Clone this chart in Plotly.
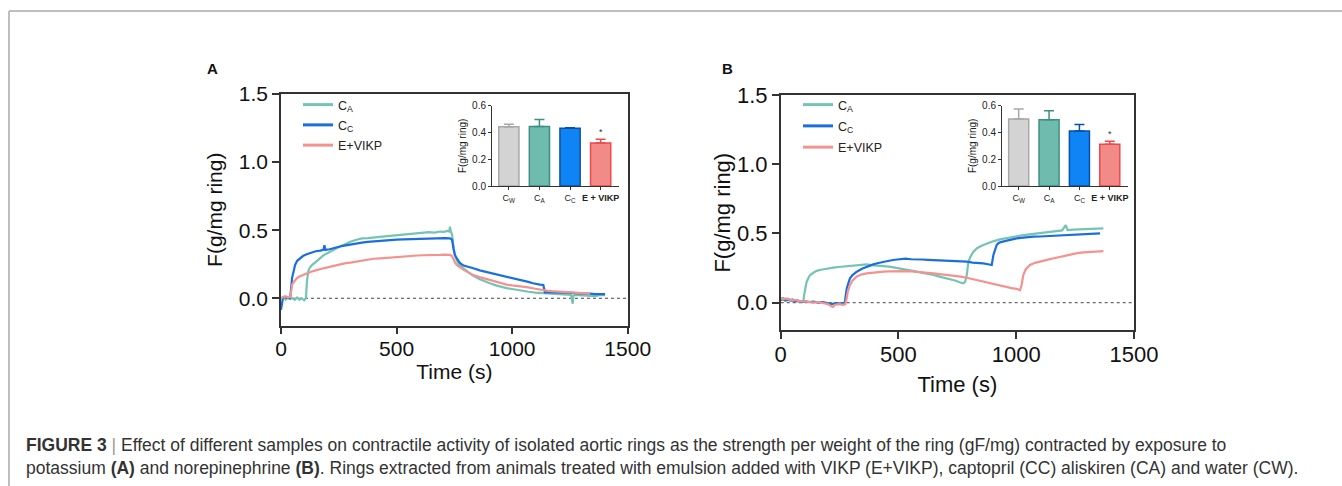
import plotly.graph_objects as go

W, H = 1342, 486
FONT = "Liberation Sans, Arial, sans-serif"

# ---------------- data ----------------
series_names = ["C<sub>A</sub>", "C<sub>C</sub>", "E+VIKP"]
line_colors = ["#74c4b4", "#1b6fdc", "#f4928f"]

# Panel A (potassium)
a_ca_t = [0, 10, 20, 30, 40, 50, 60, 70, 80, 90, 100, 108, 112, 118, 125, 135, 150, 165, 183, 200, 220, 240, 255, 275, 300, 327, 350, 375, 400, 425, 450, 472, 500, 525, 544, 570, 590, 616, 640, 665, 688, 705, 720, 728, 731, 735, 740, 746, 752, 760, 770, 789, 810, 832, 860, 880, 904, 930, 950, 976, 1000, 1025, 1049, 1070, 1100, 1121, 1150, 1170, 1193, 1220, 1240, 1255, 1262, 1265, 1270, 1290, 1310, 1337, 1360, 1380, 1402]
a_ca_f = [0.00, 0.01, -0.01, 0.005, -0.005, 0.0, -0.012, 0.005, -0.01, 0.0, -0.015, 0.0, 0.12, 0.2, 0.225, 0.245, 0.265, 0.29, 0.315, 0.33, 0.35, 0.37, 0.38, 0.395, 0.415, 0.43, 0.44, 0.442, 0.448, 0.45, 0.455, 0.458, 0.462, 0.466, 0.47, 0.475, 0.473, 0.48, 0.485, 0.482, 0.49, 0.488, 0.494, 0.49, 0.525, 0.49, 0.47, 0.38, 0.32, 0.28, 0.25, 0.22, 0.19, 0.165, 0.14, 0.125, 0.11, 0.095, 0.085, 0.075, 0.068, 0.06, 0.054, 0.048, 0.042, 0.04, 0.035, 0.032, 0.03, 0.028, 0.026, 0.025, -0.04, 0.02, 0.025, 0.022, 0.02, 0.02, 0.015, 0.025, 0.022]

a_cc_t = [0, 4, 8, 15, 25, 35, 40, 44, 48, 55, 61, 70, 82, 95, 111, 130, 150, 170, 183, 188, 192, 210, 230, 255, 280, 300, 327, 350, 375, 400, 430, 450, 472, 500, 530, 544, 570, 600, 616, 650, 688, 710, 731, 740, 746, 752, 760, 775, 790, 810, 832, 860, 880, 904, 930, 950, 976, 1000, 1025, 1049, 1070, 1090, 1106, 1120, 1135, 1142, 1160, 1193, 1220, 1240, 1265, 1290, 1310, 1337, 1360, 1380, 1402]
a_cc_f = [-0.085, -0.04, 0.0, 0.01, 0.005, 0.0, 0.005, 0.06, 0.15, 0.2, 0.245, 0.275, 0.295, 0.31, 0.323, 0.335, 0.345, 0.35, 0.355, 0.39, 0.355, 0.36, 0.37, 0.38, 0.388, 0.395, 0.40, 0.408, 0.414, 0.418, 0.422, 0.425, 0.428, 0.43, 0.432, 0.433, 0.435, 0.436, 0.438, 0.44, 0.44, 0.442, 0.44, 0.43, 0.367, 0.32, 0.294, 0.257, 0.24, 0.228, 0.22, 0.205, 0.197, 0.19, 0.178, 0.17, 0.16, 0.15, 0.14, 0.13, 0.12, 0.11, 0.102, 0.1, 0.098, 0.044, 0.045, 0.044, 0.042, 0.045, 0.04, 0.035, 0.036, 0.034, 0.03, 0.032, 0.03]

a_ev_t = [0, 10, 20, 30, 40, 44, 48, 58, 68, 80, 95, 111, 130, 150, 165, 183, 210, 235, 255, 280, 300, 327, 350, 375, 400, 430, 450, 472, 500, 525, 544, 570, 590, 616, 640, 665, 688, 710, 731, 740, 746, 752, 760, 775, 789, 810, 832, 860, 880, 904, 930, 950, 976, 1000, 1025, 1049, 1070, 1100, 1121, 1150, 1170, 1193, 1220, 1240, 1265, 1290, 1310, 1337]
a_ev_f = [0.0, 0.01, 0.015, 0.005, 0.01, 0.05, 0.1, 0.125, 0.147, 0.16, 0.172, 0.184, 0.195, 0.205, 0.213, 0.22, 0.23, 0.24, 0.25, 0.258, 0.262, 0.27, 0.278, 0.283, 0.29, 0.293, 0.296, 0.30, 0.304, 0.307, 0.31, 0.311, 0.314, 0.316, 0.315, 0.318, 0.318, 0.32, 0.318, 0.31, 0.28, 0.265, 0.245, 0.225, 0.21, 0.19, 0.17, 0.155, 0.145, 0.135, 0.12, 0.11, 0.10, 0.094, 0.09, 0.088, 0.08, 0.07, 0.062, 0.056, 0.052, 0.05, 0.045, 0.042, 0.04, 0.037, 0.035, 0.034]

# Panel B (norepinephrine)
b_ca_t = [0, 10, 20, 30, 40, 50, 60, 70, 80, 90, 96, 100, 105, 110, 118, 125, 140, 153, 170, 190, 210, 224, 245, 265, 294, 320, 340, 365, 385, 405, 436, 460, 485, 507, 530, 555, 577, 600, 625, 648, 670, 695, 719, 740, 760, 775, 783, 790, 797, 805, 818, 835, 860, 880, 905, 931, 960, 985, 1002, 1030, 1050, 1073, 1100, 1120, 1143, 1170, 1195, 1210, 1218, 1240, 1260, 1285, 1310, 1340, 1370]
b_ca_f = [0.03, 0.035, 0.025, 0.03, 0.02, 0.025, 0.015, 0.02, 0.012, 0.015, 0.012, 0.06, 0.11, 0.15, 0.18, 0.2, 0.218, 0.23, 0.238, 0.245, 0.25, 0.253, 0.258, 0.262, 0.267, 0.272, 0.275, 0.277, 0.272, 0.27, 0.267, 0.26, 0.253, 0.248, 0.24, 0.232, 0.224, 0.217, 0.208, 0.2, 0.19, 0.18, 0.17, 0.16, 0.148, 0.14, 0.15, 0.2, 0.296, 0.33, 0.368, 0.395, 0.417, 0.43, 0.445, 0.457, 0.468, 0.475, 0.48, 0.488, 0.492, 0.5, 0.505, 0.51, 0.513, 0.518, 0.522, 0.56, 0.525, 0.528, 0.53, 0.532, 0.534, 0.535, 0.537]

b_cc_t = [0, 10, 20, 30, 45, 60, 75, 90, 105, 120, 140, 160, 180, 200, 215, 230, 250, 265, 272, 277, 280, 287, 294, 305, 323, 345, 365, 390, 410, 436, 460, 485, 507, 530, 555, 577, 600, 625, 648, 670, 695, 719, 740, 765, 790, 815, 840, 860, 880, 896, 903, 910, 917, 924, 931, 960, 985, 1002, 1030, 1050, 1073, 1100, 1120, 1143, 1170, 1195, 1214, 1240, 1260, 1285, 1310, 1335, 1356]
b_cc_f = [0.02, 0.025, 0.015, 0.02, 0.015, 0.01, 0.012, 0.005, 0.01, 0.005, 0.008, 0.0, 0.005, -0.005, -0.01, -0.005, -0.008, -0.005, 0.0, 0.06, 0.10, 0.14, 0.176, 0.2, 0.224, 0.245, 0.26, 0.275, 0.285, 0.296, 0.303, 0.31, 0.315, 0.318, 0.314, 0.315, 0.312, 0.31, 0.308, 0.305, 0.302, 0.30, 0.297, 0.3, 0.296, 0.29, 0.288, 0.284, 0.278, 0.272, 0.344, 0.39, 0.417, 0.43, 0.436, 0.448, 0.46, 0.465, 0.47, 0.474, 0.477, 0.478, 0.48, 0.48, 0.485, 0.487, 0.489, 0.49, 0.492, 0.494, 0.495, 0.497, 0.50]

b_ev_t = [0, 10, 20, 35, 50, 65, 80, 100, 120, 140, 160, 180, 200, 215, 222, 230, 250, 265, 275, 280, 285, 294, 305, 323, 345, 365, 390, 410, 436, 460, 485, 507, 530, 555, 577, 600, 625, 648, 670, 695, 719, 740, 765, 790, 815, 840, 860, 880, 905, 931, 955, 980, 1002, 1016, 1023, 1030, 1040, 1058, 1080, 1100, 1120, 1143, 1170, 1195, 1214, 1240, 1260, 1285, 1310, 1340, 1370]
b_ev_f = [0.03, 0.025, 0.03, 0.02, 0.015, 0.02, 0.01, 0.01, 0.005, 0.0, 0.005, -0.005, -0.01, -0.025, -0.03, -0.015, -0.01, -0.015, -0.01, 0.03, 0.08, 0.128, 0.16, 0.19, 0.205, 0.212, 0.218, 0.22, 0.224, 0.226, 0.228, 0.229, 0.228, 0.226, 0.224, 0.22, 0.216, 0.212, 0.208, 0.204, 0.2, 0.195, 0.188, 0.18, 0.17, 0.16, 0.152, 0.145, 0.132, 0.123, 0.112, 0.105, 0.1, 0.09, 0.13, 0.2, 0.24, 0.272, 0.288, 0.298, 0.307, 0.315, 0.325, 0.335, 0.344, 0.352, 0.358, 0.364, 0.368, 0.371, 0.373]

# Inset bar charts
bar_cats = ["C<sub>W</sub>", "C<sub>A</sub>", "C<sub>C</sub>", "<b>E + VIKP</b>"]
bar_fill = ["#d3d3d3", "#6fbcaf", "#0f85f5", "#f28a88"]
bar_edge = ["#a8a8a8", "#3e8f82", "#0a4fa8", "#f04848"]
a_bar_vals = [0.443, 0.445, 0.432, 0.322]
a_bar_errs = [0.018, 0.052, 0.004, 0.028]
b_bar_vals = [0.500, 0.495, 0.411, 0.312]
b_bar_errs = [0.075, 0.068, 0.048, 0.023]
sig_index = 3

time_ticks = [0, 500, 1000, 1500]
f_ticks = [0.0, 0.5, 1.0, 1.5]
inset_ticks = [0.0, 0.2, 0.4, 0.6]

caption = ("<b>FIGURE 3</b> <span style='color:#9a9a9a'>|</span> Effect of different samples on contractile activity of isolated aortic rings as the strength per weight of the ring (gF/mg) contracted by exposure to"
           "<br>potassium <b>(A)</b> and norepinephrine <b>(B)</b>. Rings extracted from animals treated with emulsion added with VIKP (E+VIKP), captopril (CC) aliskiren (CA) and water (CW).")

# ---------------- helpers ----------------
def xd(a, b):
    return [a / W, b / W]

def yd(top, bottom):
    return [1 - bottom / H, 1 - top / H]

fig = go.Figure()

panels = [
    dict(xa="x", ya="y", leg="legend", key="a", data=[(a_ca_t, a_ca_f), (a_cc_t, a_cc_f), (a_ev_t, a_ev_f)]),
    dict(xa="x3", ya="y3", leg="legend2", key="b", data=[(b_ca_t, b_ca_f), (b_cc_t, b_cc_f), (b_ev_t, b_ev_f)]),
]
for p in panels:
    for name, col, (t, f) in zip(series_names, line_colors, p["data"]):
        fig.add_trace(go.Scatter(x=t, y=f, mode="lines", line=dict(color=col, width=2.2),
                                 xaxis=p["xa"], yaxis=p["ya"], showlegend=False, name=name))
    for i, (name, col) in enumerate(zip(series_names, line_colors)):
        fig.add_trace(go.Scatter(x=[None], y=[None], mode="lines", line=dict(color=col, width=3),
                                 xaxis=p["xa"], yaxis=p["ya"], name=name, legend=p["leg"],
                                 legendgroup=f"{p['key']}{i}"))

for xa, ya, vals, errs in [("x2", "y2", a_bar_vals, a_bar_errs), ("x4", "y4", b_bar_vals, b_bar_errs)]:
    for c, v, e, fc, ec in zip(bar_cats, vals, errs, bar_fill, bar_edge):
        fig.add_trace(go.Bar(x=[c], y=[v], width=0.66, xaxis=xa, yaxis=ya, showlegend=False,
                             marker=dict(color=fc, line=dict(color=ec, width=1.5)),
                             error_y=dict(type="data", array=[e], arrayminus=[0], symmetric=False,
                                          color=ec, thickness=1.5, width=5)))
    fig.add_annotation(x=bar_cats[sig_index], y=vals[sig_index] + errs[sig_index], xref=xa, yref=ya,
                       text="*", showarrow=False, xanchor="center", yanchor="bottom",
                       font=dict(size=9, color="#333", family=FONT))

main_x = dict(showline=True, linecolor="#333", linewidth=1.5, mirror=True, ticks="outside", ticklen=7,
              tickwidth=1.5, tickcolor="#333", showgrid=False, zeroline=False, tickvals=time_ticks,
              range=[0, 1500], automargin=False)
main_y = dict(showline=True, linecolor="#333", linewidth=1.5, mirror=True, ticks="outside", ticklen=7,
              tickwidth=1.5, tickcolor="#333", showgrid=False, zeroline=False, tickvals=f_ticks,
              tickformat=".1f", range=[-0.2, 1.5], automargin=False)
ins_x = dict(showline=True, linecolor="#333", linewidth=1, ticks="outside", ticklen=3, tickcolor="#333",
             showgrid=False, zeroline=False, range=[-0.55, 3.6], type="category", automargin=False,
             tickfont=dict(size=9, color="#222", family=FONT))
ins_y = dict(showline=True, linecolor="#333", linewidth=1, ticks="outside", ticklen=3, tickcolor="#333",
             showgrid=False, zeroline=False, range=[0, 0.6], tickvals=inset_ticks, tickformat=".1f",
             automargin=False, tickfont=dict(size=10, color="#222", family=FONT),
             title=dict(text="F(g/mg ring)", font=dict(size=10, color="#222", family=FONT), standoff=3))

leg_font = dict(size=12.5, color="#222", family=FONT)
fig.update_layout(
    width=W, height=H, margin=dict(l=0, r=0, t=0, b=0, autoexpand=False),
    paper_bgcolor="white", plot_bgcolor="rgba(0,0,0,0)", barmode="overlay",
    font=dict(family=FONT, color="#111"),
    xaxis=dict(main_x, domain=xd(281, 627.7), anchor="y", tickfont=dict(size=21, color="#111"),
               ticklabelstandoff=-3,
               title=dict(text="Time (s)", font=dict(size=21, color="#111"), standoff=0)),
    yaxis=dict(main_y, domain=yd(94, 325.5), anchor="x", tickfont=dict(size=21, color="#111"),
               title=dict(text="F(g/mg ring)", font=dict(size=21, color="#111"), standoff=10)),
    xaxis3=dict(main_x, domain=xd(780.7, 1134), anchor="y3", tickfont=dict(size=22, color="#111"),
                ticklabelstandoff=-4,
                title=dict(text="Time (s)", font=dict(size=22, color="#111"), standoff=11)),
    yaxis3=dict(main_y, domain=yd(95, 330.4), anchor="x3", tickfont=dict(size=22, color="#111"),
                title=dict(text="F(g/mg ring)", font=dict(size=22, color="#111"), standoff=0)),
    xaxis2=dict(ins_x, domain=xd(492, 619), anchor="y2"),
    yaxis2=dict(ins_y, domain=yd(105.7, 186), anchor="x2"),
    xaxis4=dict(ins_x, domain=xd(1002, 1128), anchor="y4"),
    yaxis4=dict(ins_y, domain=yd(105.7, 186), anchor="x4"),
    legend=dict(x=298 / W, y=1 - 90 / H, xanchor="left", yanchor="top", bgcolor="rgba(0,0,0,0)",
                font=leg_font, tracegroupgap=1),
    legend2=dict(x=798 / W, y=1 - 90 / H, xanchor="left", yanchor="top", bgcolor="rgba(0,0,0,0)",
                 font=leg_font, tracegroupgap=2),
)

# zero reference lines
for xa, ya in [("x", "y"), ("x3", "y3")]:
    fig.add_shape(type="line", xref=f"{xa} domain", x0=0, x1=1, yref=ya, y0=0, y1=0,
                  line=dict(color="#444", width=1, dash="dot"), layer="below")

# panel letters
for letter, px in [("A", 212.5), ("B", 727)]:
    fig.add_annotation(x=px / W, y=1 - 68 / H, xref="paper", yref="paper", text=f"<b>{letter}</b>",
                       showarrow=False, xanchor="center", yanchor="middle",
                       font=dict(size=15, color="#111", family=FONT))

# caption
fig.add_annotation(x=24 / W, y=1 - 456.5 / H, xref="paper", yref="paper", text=caption, showarrow=False,
                   xanchor="left", yanchor="middle", align="left",
                   font=dict(size=17.5, color="#333", family=FONT))

# figure frame
fig.add_shape(type="line", xref="paper", yref="paper", x0=9 / W, x1=1, y0=1 - 11 / H, y1=1 - 11 / H,
              line=dict(color="#aaaaaa", width=1.5))
fig.add_shape(type="line", xref="paper", yref="paper", x0=9 / W, x1=9 / W, y0=0, y1=1 - 11 / H,
              line=dict(color="#aaaaaa", width=1.5))

fig.write_html("out.html", config={"displayModeBar": False},
               post_script="document.body.style.margin='0';document.body.style.padding='0';"
                           "document.documentElement.style.overflow='hidden';document.body.style.overflow='hidden';")
